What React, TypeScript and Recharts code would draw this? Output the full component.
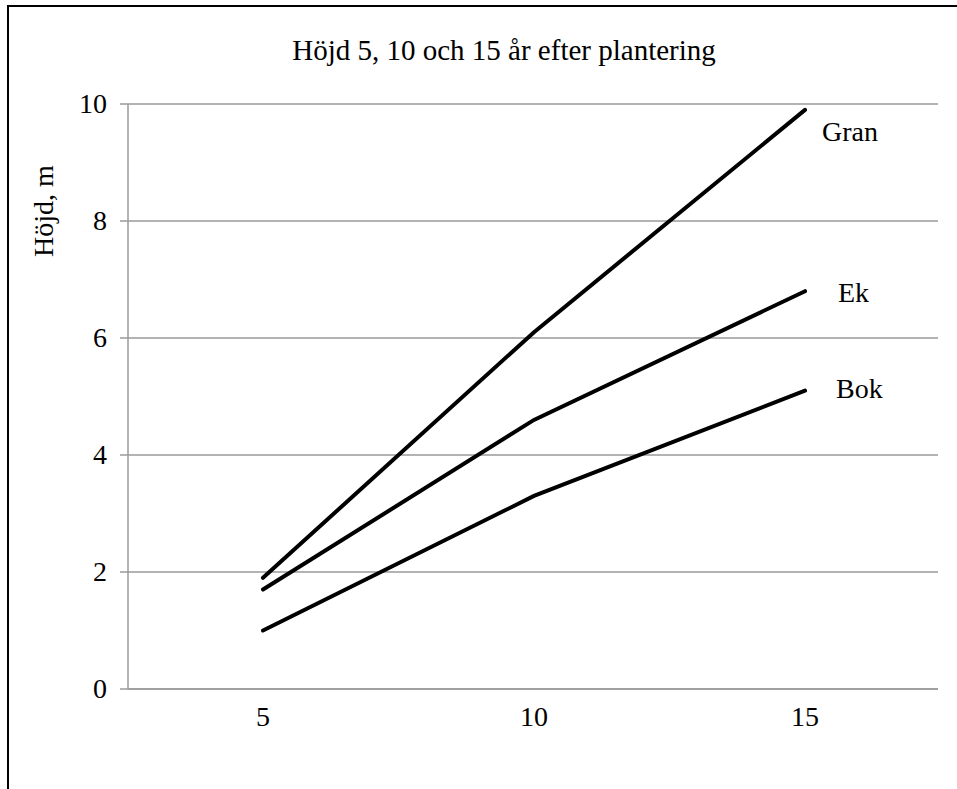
import { LineChart, Line, XAxis, YAxis, CartesianGrid, LabelList } from "recharts";

const years = ["5", "10", "15"];
const gran = [1.9, 6.1, 9.9];
const ek = [1.7, 4.6, 6.8];
const bok = [1.0, 3.3, 5.1];
const yTicks = [0, 2, 4, 6, 8, 10];

const data = years.map((year, i) => ({ year, gran: gran[i], ek: ek[i], bok: bok[i] }));

const FONT = "'Liberation Serif', 'Times New Roman', serif";
const GRID = "#9a9a9a";

// name printed to the right of each line's last point
function endLabel(name: string, dx: number, dy: number) {
  return (props: any) => {
    const { x, y, index } = props;
    if (index !== years.length - 1) return null;
    return (
      <text x={x + dx} y={y + dy} fontSize={28} fontFamily={FONT} fill="#000" dominantBaseline="central">
        {name}
      </text>
    );
  };
}

const XTick = (props: any) => {
  const { x, y, payload } = props;
  return (
    <text x={x} y={y} dy={29} textAnchor="middle" fontSize={28} fontFamily={FONT} fill="#000">
      {payload.value}
    </text>
  );
};

const YTick = (props: any) => {
  const { x, y, payload } = props;
  return (
    <text x={x} y={y} dy={9} textAnchor="end" fontSize={28} fontFamily={FONT} fill="#000">
      {payload.value}
    </text>
  );
};

export default function App() {
  return (
    <div
      style={{
        position: "absolute",
        left: 0,
        top: 0,
        width: 957,
        height: 789,
        overflow: "hidden",
        background: "#fff",
        fontFamily: FONT,
      }}
    >
      <div
        style={{
          position: "absolute",
          left: 7,
          top: 5,
          width: 1000,
          height: 820,
          border: "2px solid #000",
        }}
      />
      <LineChart
        width={957}
        height={789}
        data={data}
        margin={{ top: 104, right: 19, left: 0, bottom: 40 }}
        style={{ position: "absolute", left: 0, top: 0 }}
      >
        <CartesianGrid vertical={false} stroke={GRID} strokeWidth={1.5} />
        <XAxis
          dataKey="year"
          height={60}
          padding={{ left: 135, right: 133 }}
          axisLine={{ stroke: GRID, strokeWidth: 1.5 }}
          tickLine={false}
          tickMargin={2}
          tick={<XTick />}
        />
        <YAxis
          domain={[0, 10]}
          ticks={yTicks}
          width={128}
          axisLine={{ stroke: GRID, strokeWidth: 1.5 }}
          tickLine={{ stroke: GRID, strokeWidth: 1.5 }}
          tickSize={8}
          tickMargin={13}
          tick={<YTick />}
        />
        <Line dataKey="gran" stroke="#000" strokeWidth={4} strokeLinecap="round" dot={false} isAnimationActive={false}>
          <LabelList dataKey="gran" content={endLabel("Gran", 17, 22)} />
        </Line>
        <Line dataKey="ek" stroke="#000" strokeWidth={4} strokeLinecap="round" dot={false} isAnimationActive={false}>
          <LabelList dataKey="ek" content={endLabel("Ek", 33, 1)} />
        </Line>
        <Line dataKey="bok" stroke="#000" strokeWidth={4} strokeLinecap="round" dot={false} isAnimationActive={false}>
          <LabelList dataKey="bok" content={endLabel("Bok", 31, -2)} />
        </Line>
        <text x={504} y={60} textAnchor="middle" fontSize={29} fontFamily={FONT} fill="#000">
          Höjd 5, 10 och 15 år efter plantering
        </text>
        <text
          x={53}
          y={211}
          textAnchor="middle"
          fontSize={28}
          fontFamily={FONT}
          fill="#000"
          transform="rotate(-90, 53, 211)"
        >
          Höjd, m
        </text>
      </LineChart>
    </div>
  );
}
